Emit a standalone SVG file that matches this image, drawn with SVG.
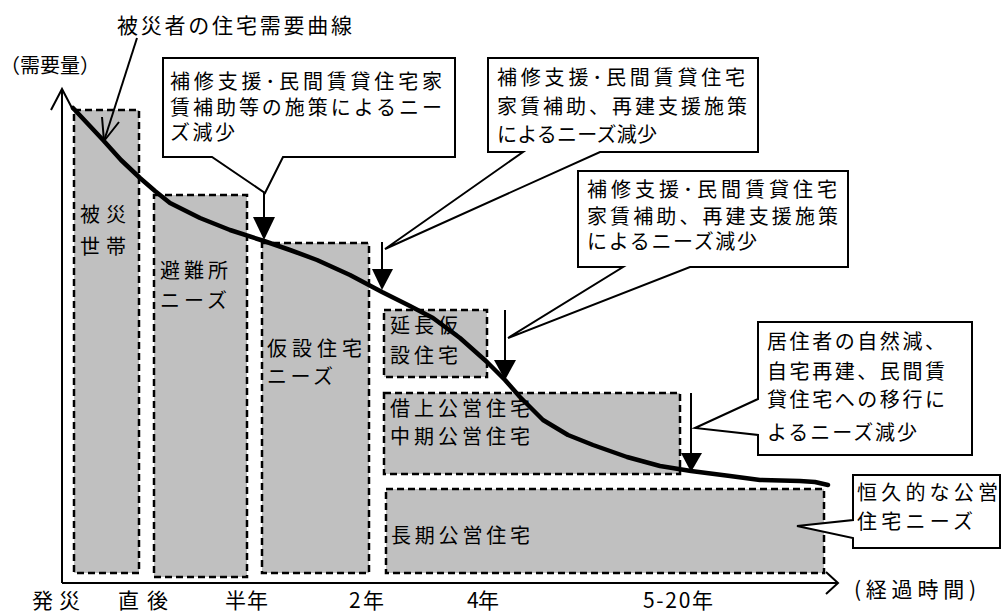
<svg xmlns="http://www.w3.org/2000/svg" width="1003" height="614" viewBox="0 0 1003 614">
<style>
text{font-family:"Noto Sans CJK JP","Noto Sans",sans-serif;font-size:20px;fill:#000}
.box{fill:#c0c0c0;stroke:#000;stroke-width:2.5;stroke-dasharray:7 4}
.call{fill:#fff;stroke:#000;stroke-width:2;stroke-linejoin:miter}
.ln{fill:none;stroke:#000;stroke-width:2}
.head{fill:#000;stroke:none}
.ax{fill:none;stroke:#000;stroke-width:2}
.lab{font-size:21px}
</style>
<rect width="1003" height="614" fill="#fff"/>
<g id="axes">
<polyline class="ax" points="62,583 62,89"/>
<polyline class="ax" points="51,110 62,89 73,110"/>
<polyline class="ax" points="62,583 838,583"/>
<polyline class="ax" points="826,572 838,583 826,594"/>
<text x="0" y="73">（需要量）</text>
<text class="lab" x="854" y="597" textLength="122" lengthAdjust="spacing">(経過時間)</text>
<text class="lab" x="32" y="608" textLength="48" lengthAdjust="spacing">発災</text>
<text class="lab" x="118" y="608" textLength="50" lengthAdjust="spacing">直後</text>
<text class="lab" x="225" y="608" textLength="43" lengthAdjust="spacing">半年</text>
<text class="lab" x="349" y="608" textLength="35" lengthAdjust="spacing">2年</text>
<text class="lab" x="467" y="608" textLength="32" lengthAdjust="spacing">4年</text>
<text class="lab" x="643" y="608" textLength="70" lengthAdjust="spacing">5-20年</text>
</g>
<g id="node-hisai"><rect class="box" x="74" y="110" width="65" height="463"/><text x="80" y="222" textLength="46">被災</text><text x="80" y="254" textLength="46">世帯</text></g>
<g id="node-hinanjo"><rect class="box" x="154" y="195" width="93" height="382"/><text x="160" y="278" textLength="68">避難所</text><text x="160" y="308" textLength="67">ニーズ</text></g>
<g id="node-kasetsu"><rect class="box" x="262" y="243" width="107" height="330"/><text x="267" y="356" textLength="95">仮設住宅</text><text x="267" y="384" textLength="66">ニーズ</text></g>
<g id="node-encho"><rect class="box" x="384" y="310" width="103" height="67"/><text x="390" y="333" textLength="68">延長仮</text><text x="390" y="363" textLength="68">設住宅</text></g>
<g id="node-kariage"><rect class="box" x="384" y="393" width="296" height="81"/><text x="390" y="416" textLength="140">借上公営住宅</text><text x="390" y="444" textLength="140">中期公営住宅</text></g>
<g id="node-choki"><rect class="box" x="386" y="489" width="438" height="84"/><text x="391" y="543" textLength="139">長期公営住宅</text></g>
<g id="curve">
<polyline fill="none" stroke="#000" stroke-width="4.5" stroke-linejoin="round" stroke-linecap="round" points="73,108 88,124 103,140 121,160 140,178 155,191 170,203 200,218 230,230 264,241 290,250 317,260 350,275 382,292 410,306 433,318 460,338 487,362 505,380 520,397 543,420 568,435 593,445 627,457 660,466 691,471 730,476 760,480 800,481 815,482 828,485"/>
</g>
<g id="title">
<text x="117" y="33" style="font-size:21px" textLength="235">被災者の住宅需要曲線</text>
</g>
<g id="callout1"><path class="call" d="M163,58 H455 V157 H283 L265,193 L212,157 H163 Z"/><text x="170" y="89" textLength="272">補修支援･民間賃貸住宅家</text><text x="170" y="115" textLength="272">賃補助等の施策によるニー</text><text x="170" y="140" textLength="65">ズ減少</text></g>
<g id="callout2"><path class="call" d="M488,58 H758 V152 H600 L385,249 L523,152 H488 Z"/><text x="497" y="85" textLength="248">補修支援･民間賃貸住宅</text><text x="497" y="114" textLength="250">家賃補助、再建支援施策</text><text x="497" y="142" textLength="160">によるニーズ減少</text></g>
<g id="callout3"><path class="call" d="M578,171 H848 V267 H690 L508,338 L623,267 H578 Z"/><text x="587" y="197" textLength="250">補修支援･民間賃貸住宅</text><text x="587" y="224" textLength="251">家賃補助、再建支援施策</text><text x="587" y="249" textLength="170">によるニーズ減少</text></g>
<g id="callout4"><path class="call" d="M758,322 H972 V455 H758 V435 L695,428 L758,399 Z"/><text x="767" y="349" textLength="178">居住者の自然減、</text><text x="767" y="379" textLength="178">自宅再建、民間賃</text><text x="767" y="407" textLength="178">貸住宅への移行に</text><text x="767" y="440" textLength="150">よるニーズ減少</text></g>
<g id="callout5"><path class="call" d="M853,475 H1000 V548 H853 V538 L797,526 L853,520 Z"/><text x="857" y="500" textLength="141">恒久的な公営</text><text x="857" y="529" textLength="116">住宅ニーズ</text></g>
<g id="connectors">
<line class="ln" x1="137" y1="38" x2="104" y2="141"/>
<polyline class="ln" points="102,117 104,141 119,122"/>
<line class="ln" x1="264" y1="193" x2="264" y2="220"/>
<polygon class="head" points="253,217 275,217 264,240"/>
<line class="ln" x1="382" y1="242" x2="382" y2="271"/>
<polygon class="head" points="372,269 393,269 382,290"/>
<line class="ln" x1="505" y1="310" x2="505" y2="362"/>
<polygon class="head" points="494,360 516,360 505,380"/>
<line class="ln" x1="691" y1="393" x2="691" y2="455"/>
<polygon class="head" points="681,453 702,453 691,472"/>
</g>
</svg>
